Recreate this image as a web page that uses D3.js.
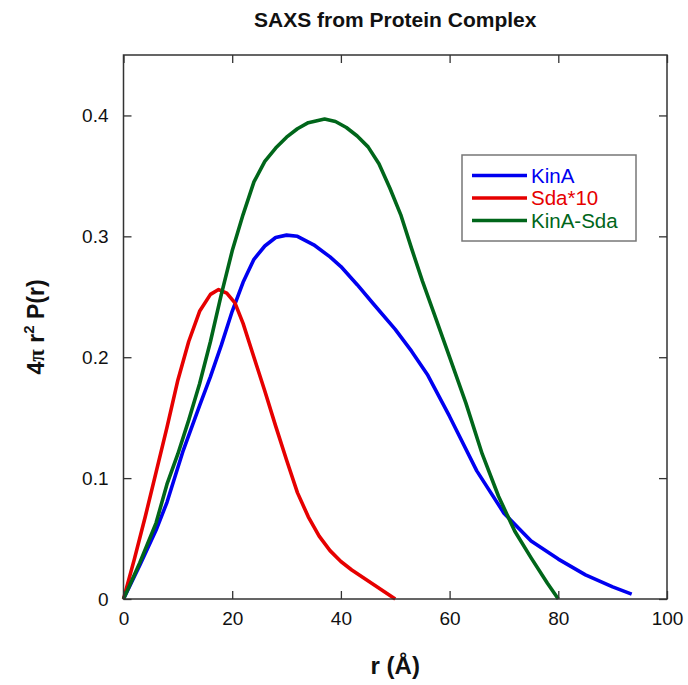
<!DOCTYPE html>
<html><head><meta charset="utf-8">
<script src="https://cdnjs.cloudflare.com/ajax/libs/d3/7.8.5/d3.min.js"></script>
<style>body{margin:0;background:#fff;} text{font-family:"Liberation Sans",Arial,sans-serif;}</style>
</head><body><svg id="c" width="688" height="685"></svg>
<script>
const kinA_r = [0,3,6,8,11,14,16,18,20,22,24,26,28,30,32,35,38,40,43,46,50,53,56,60,65,70,75,80,85,90,93.5];
const kinA_v = [0,0.028,0.057,0.08,0.123,0.16,0.184,0.21,0.238,0.262,0.281,0.292,0.299,0.301,0.3,0.293,0.283,0.275,0.26,0.244,0.223,0.205,0.185,0.151,0.106,0.071,0.048,0.033,0.02,0.01,0.004];
const sda_r = [0,2,4,6,8,10,12,14,16,17.5,19,20.5,22,24,26,28,30,32,34,36,38,40,42,44,46,48,50];
const sda_v = [0,0.033,0.068,0.105,0.142,0.181,0.213,0.238,0.252,0.256,0.253,0.245,0.228,0.2,0.172,0.143,0.115,0.088,0.068,0.052,0.04,0.031,0.024,0.018,0.012,0.006,0];
const cplx_r = [0,3,6,8,10,12,14,16,18,20,22,24,26,28,30,32,34,37,39,41,43,45,47,49,51,53,55,57,60,63,66,69,72,75,78,80];
const cplx_v = [0,0.03,0.063,0.095,0.12,0.148,0.178,0.213,0.252,0.288,0.318,0.345,0.362,0.373,0.382,0.389,0.394,0.397,0.395,0.39,0.383,0.374,0.36,0.34,0.318,0.29,0.263,0.238,0.2,0.162,0.12,0.085,0.056,0.034,0.013,0];
const xTicks = [0,20,40,60,80,100];
const yTicks = [0,0.1,0.2,0.3,0.4];
const seriesNames = ["KinA","Sda*10","KinA-Sda"];
const colors = ["#0000f0","#e60000","#00661a"];

const svg = d3.select("#c");
const L=123.5, R=667, T=55, B=599;
const x = d3.scaleLinear().domain([0,100]).range([L,R]);
const y = d3.scaleLinear().domain([0,0.45]).range([B,T]);

const series = [
  kinA_r.map((r,i)=>[r,kinA_v[i]]),
  sda_r.map((r,i)=>[r,sda_v[i]]),
  cplx_r.map((r,i)=>[r,cplx_v[i]])
];
const line = d3.line().x(d=>x(d[0])).y(d=>y(d[1]));
series.forEach((s,i)=>{
  svg.append("path").attr("d",line(s)).attr("fill","none").attr("stroke",colors[i])
    .attr("stroke-width",3.6).attr("stroke-linejoin","round");
});

svg.append("rect").attr("x",L).attr("y",T).attr("width",R-L).attr("height",B-T)
  .attr("fill","none").attr("stroke","#333").attr("stroke-width",1.5);

const fs = 19;
const ax = svg.append("g").attr("transform",`translate(0,${B})`)
  .call(d3.axisBottom(x).tickValues(xTicks).tickSizeInner(-8).tickSizeOuter(0).tickPadding(13).tickFormat(d3.format("d")));
const axT = svg.append("g").attr("transform",`translate(0,${T})`)
  .call(d3.axisTop(x).tickValues(xTicks).tickSizeInner(-8).tickSizeOuter(0).tickFormat(""));
const ay = svg.append("g").attr("transform",`translate(${L},0)`)
  .call(d3.axisLeft(y).tickValues(yTicks).tickSizeInner(-8).tickSizeOuter(0).tickPadding(15).tickFormat(d=>d===0?"0":d3.format(".1f")(d)));
const ayR = svg.append("g").attr("transform",`translate(${R},0)`)
  .call(d3.axisRight(y).tickValues(yTicks).tickSizeInner(-8).tickSizeOuter(0).tickFormat(""));
[ax,axT,ay,ayR].forEach(g=>{
  g.select(".domain").remove();
  g.selectAll("line").attr("stroke","#333").attr("stroke-width",1.3);
  g.selectAll("text").attr("font-size",fs).attr("fill","#111").attr("font-family","Liberation Sans, Arial, sans-serif");
});

svg.append("text").attr("x",(L+R)/2).attr("y",27).attr("text-anchor","middle")
  .attr("font-size",21).attr("font-weight","bold").attr("fill","#111").text("SAXS from Protein Complex");
svg.append("text").attr("x",(L+R)/2).attr("y",674).attr("text-anchor","middle")
  .attr("font-size",24).attr("font-weight","bold").attr("fill","#111").text("r (Å)");
const yl = svg.append("text").attr("transform",`translate(44,${(T+B)/2}) rotate(-90)`).attr("text-anchor","middle")
  .attr("font-size",23).attr("font-weight","bold").attr("fill","#111");
yl.append("tspan").text("4");
yl.append("tspan").attr("font-family","Liberation Serif, serif").text("π");
yl.append("tspan").text(" r");
yl.append("tspan").attr("font-size",15).attr("dy",-10).text("2");
yl.append("tspan").attr("dy",10).text(" P(r)");

const lg = svg.append("g");
lg.append("rect").attr("x",462).attr("y",155).attr("width",174).attr("height",86)
  .attr("fill","#fff").attr("stroke","#777").attr("stroke-width",1.5);
seriesNames.forEach((n,i)=>{
  const yy = 175.5 + i*22.5;
  lg.append("line").attr("x1",472).attr("x2",527).attr("y1",yy).attr("y2",yy)
    .attr("stroke",colors[i]).attr("stroke-width",3.6);
  lg.append("text").attr("x",531).attr("y",yy+7).attr("font-size",20.5).attr("fill",colors[i]).text(n);
});
</script></body></html>
